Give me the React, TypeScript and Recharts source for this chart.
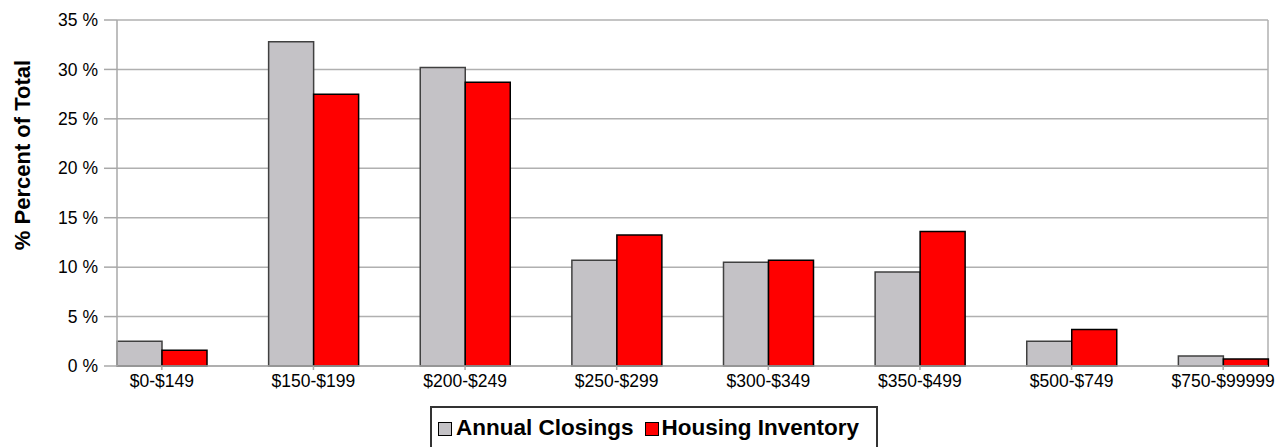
import React from 'react';
import { BarChart, Bar, XAxis, YAxis, CartesianGrid, Legend } from 'recharts';

const categories = ['$0-$149', '$150-$199', '$200-$249', '$250-$299', '$300-$349', '$350-$499', '$500-$749', '$750-$99999'];
const annualClosings = [2.5, 32.8, 30.2, 10.7, 10.5, 9.5, 2.5, 1.0];
const housingInventory = [1.6, 27.5, 28.7, 13.25, 10.7, 13.6, 3.7, 0.7];
const yTicks = [0, 5, 10, 15, 20, 25, 30, 35];

const data = categories.map((c, i) => ({ name: c, closings: annualClosings[i], inventory: housingInventory[i] }));

const GREY = '#c4c2c6';
const RED = '#ff0000';
const FONT = '"Liberation Sans", Arial, sans-serif';

const LegendBox = () => (
  <div
    style={{
      width: 448,
      height: 50,
      border: '2px solid #333',
      boxSizing: 'border-box',
      background: '#fff',
      display: 'flex',
      alignItems: 'flex-start',
      paddingTop: 7,
      paddingLeft: 6,
      fontFamily: FONT,
      fontWeight: 'bold',
      fontSize: 22.5,
      lineHeight: '26px',
      color: '#000',
      whiteSpace: 'nowrap',
    }}
  >
    <span style={{ display: 'inline-block', width: 12, height: 12, background: GREY, border: '1.5px solid #000', marginTop: 7, marginRight: 4 }} />
    <span>Annual Closings</span>
    <span style={{ display: 'inline-block', width: 12, height: 12, background: RED, border: '1.5px solid #000', marginTop: 7, marginLeft: 11, marginRight: 3 }} />
    <span>Housing Inventory</span>
  </div>
);

const YLabel = () => (
  <text
    x={30}
    y={155}
    transform="rotate(-90 30 155)"
    textAnchor="middle"
    fontFamily={FONT}
    fontWeight="bold"
    fontSize={22}
    fill="#000"
  >
    % Percent of Total
  </text>
);

export default function App() {
  return (
    <div style={{ position: 'absolute', left: 0, top: 0, width: 1279, height: 447, background: '#fff' }}>
      <BarChart
        width={1279}
        height={447}
        data={data}
        margin={{ top: 20, right: 11, bottom: 0, left: 0 }}
        barGap={0}
        barSize={45}
      >
        <CartesianGrid
          vertical={true}
          horizontal={true}
          stroke="#b0b0b0"
          strokeWidth={1.5}
          verticalPoints={[1268]}
        />
        <XAxis
          dataKey="name"
          height={81}
          padding={{ left: -31, right: -31 }}
          interval={0}
          tickSize={4}
          tickMargin={5}
          axisLine={{ stroke: '#a8a8a8', strokeWidth: 1.5 }}
          tickLine={{ stroke: '#a8a8a8', strokeWidth: 1.5 }}
          tick={{ fill: '#000', fontSize: 17.5, fontFamily: FONT }}
        />
        <YAxis
          width={117}
          domain={[0, 35]}
          ticks={yTicks}
          interval={0}
          tickFormatter={(v: number) => `${v} %`}
          tickSize={13}
          tickMargin={6}
          axisLine={{ stroke: '#a8a8a8', strokeWidth: 1.5 }}
          tickLine={{ stroke: '#a8a8a8', strokeWidth: 1.5 }}
          tick={{ fill: '#000', fontSize: 17.5, fontFamily: FONT }}
          label={<YLabel />}
        />
        <Legend
          layout="horizontal"
          verticalAlign="middle"
          align="center"
          content={<LegendBox />}
          wrapperStyle={{ position: 'absolute', left: 430, top: 406, width: 448, height: 50 }}
        />
        <Bar dataKey="closings" name="Annual Closings" fill={GREY} stroke="#404040" strokeWidth={1.5} isAnimationActive={false} />
        <Bar dataKey="inventory" name="Housing Inventory" fill={RED} stroke="#000" strokeWidth={1.5} isAnimationActive={false} />
      </BarChart>
    </div>
  );
}
